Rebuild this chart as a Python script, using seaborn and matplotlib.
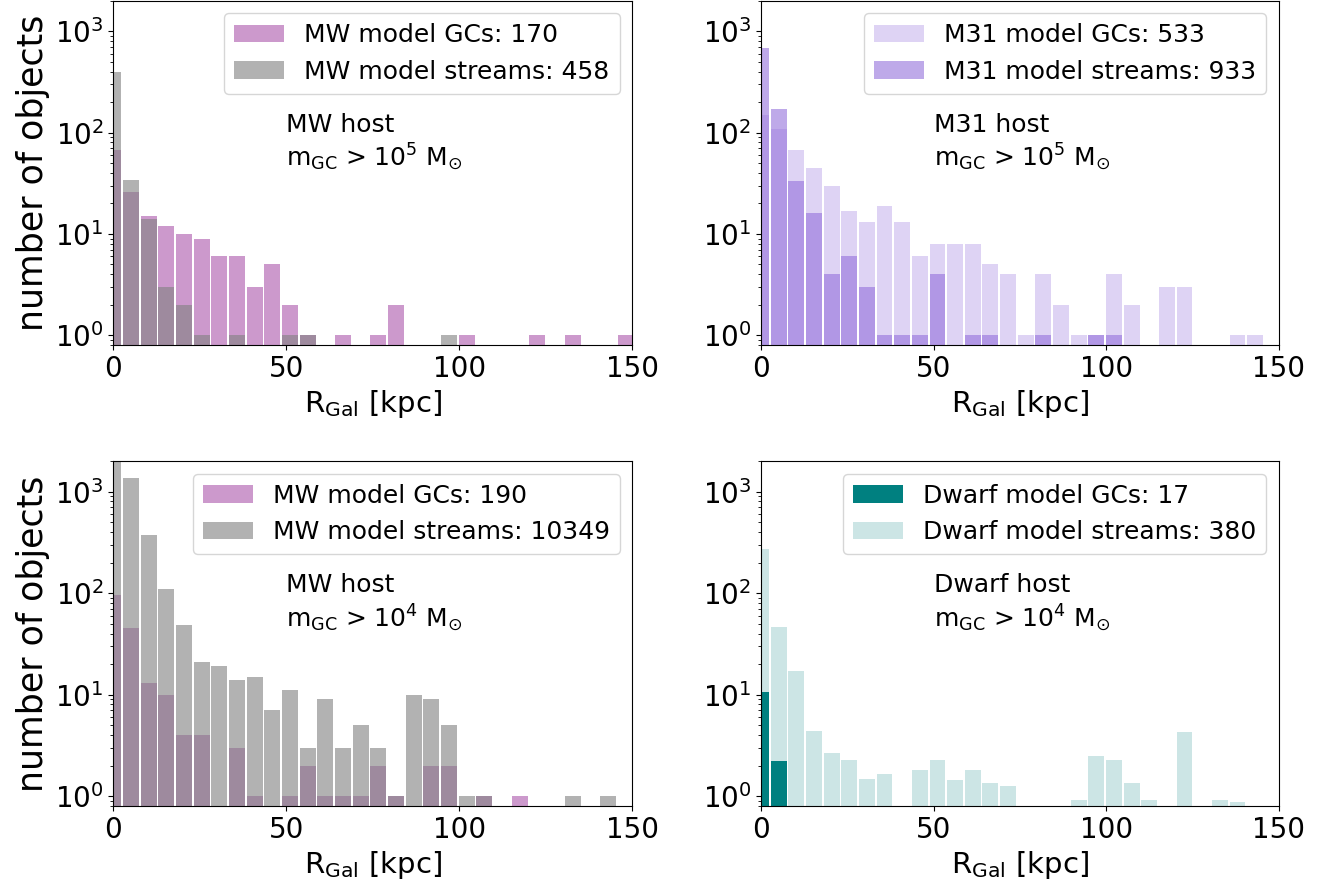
import numpy as np
import pandas as pd
import matplotlib
matplotlib.use("Agg")
import matplotlib.pyplot as plt
import seaborn as sns

# Galactocentric radius bins [kpc]
BIN_WIDTH = 5.11
N_BINS = 30
r_centers = np.arange(N_BINS) * BIN_WIDTH
r_edges = ((np.arange(N_BINS + 1) - 0.5) * BIN_WIDTH).tolist()

# MW host, m_GC > 1e5 Msun
mw5_gcs = [67, 26, 15, 12, 10, 9, 6, 6, 3, 5, 2, 1, 0, 1, 0,
           1, 2, 0, 0, 0, 1, 0, 0, 0, 1, 0, 1, 0, 0, 1]
mw5_streams = [400, 34, 14, 3, 2, 1, 0, 1, 0, 0, 1, 1, 0, 0, 0,
               0, 0, 0, 0, 1, 0, 0, 0, 0, 0, 0, 0, 0, 0, 0]

# M31 host, m_GC > 1e5 Msun
m31_gcs = [148, 108, 67, 45, 30, 17, 13, 19, 13, 6, 8, 8, 8, 5, 4,
           1, 4, 2, 1, 1, 4, 2, 0, 3, 3, 0, 0, 1, 1, 0]
m31_streams = [689, 170, 33, 16, 4, 6, 3, 1, 1, 1, 4, 0, 1, 1, 0,
               0, 1, 0, 0, 1, 1, 0, 0, 0, 0, 0, 0, 0, 0, 0]

# MW host, m_GC > 1e4 Msun
mw4_gcs = [95, 45, 13, 10, 4, 4, 0, 3, 1, 0, 1, 2, 1, 1, 1,
           2, 1, 0, 2, 2, 0, 1, 0, 1, 0, 0, 0, 0, 0, 0]
mw4_streams = [8314, 1363, 375, 110, 48, 21, 19, 14, 15, 7, 11, 3, 9, 3, 5,
               3, 1, 10, 9, 5, 1, 1, 0, 0, 0, 0, 1, 0, 1, 0]

# Dwarf host, m_GC > 1e4 Msun
dw4_gcs = [10.7, 2.24, 0, 0, 0, 0, 0, 0, 0, 0, 0, 0, 0, 0, 0,
           0, 0, 0, 0, 0, 0, 0, 0, 0, 0, 0, 0, 0, 0, 0]
dw4_streams = [273, 46.7, 17.2, 4.43, 2.69, 2.29, 1.46, 1.67, 0, 1.79, 2.29,
               1.43, 1.79, 1.36, 1.27, 0, 0, 0, 0.91, 2.51, 2.29, 1.36, 0.91,
               0, 4.33, 0, 0.91, 0.87, 0, 0]

panels = [
    dict(pos=[0.0851, 0.6124, 0.3894, 0.3866], host="MW host", mexp=5,
         series=[("MW model GCs: 170", mw5_gcs, "purple", 0.4, 1),
                 ("MW model streams: 458", mw5_streams, "gray", 0.6, 2)]),
    dict(pos=[0.5713, 0.6124, 0.3889, 0.3866], host="M31 host", mexp=5,
         series=[("M31 model GCs: 533", m31_gcs, "mediumpurple", 0.3, 1),
                 ("M31 model streams: 933", m31_streams, "mediumpurple", 0.6, 2)]),
    dict(pos=[0.0851, 0.0944, 0.3894, 0.3876], host="MW host", mexp=4,
         series=[("MW model GCs: 190", mw4_gcs, "purple", 0.4, 1),
                 ("MW model streams: 10349", mw4_streams, "gray", 0.6, 2)]),
    dict(pos=[0.5713, 0.0944, 0.3889, 0.3876], host="Dwarf host", mexp=4,
         series=[("Dwarf model GCs: 17", dw4_gcs, "teal", 1.0, 2),
                 ("Dwarf model streams: 380", dw4_streams, "teal", 0.2, 1)]),
]

fig = plt.figure(figsize=(13.32, 8.9), dpi=100)

for i, p in enumerate(panels):
    ax = fig.add_axes(p["pos"])
    ax.set_yscale("log")
    for label, counts, color, alpha, z in sorted(p["series"], key=lambda s: s[4]):
        df = pd.DataFrame({"r": r_centers, "n": counts})
        sns.histplot(data=df, x="r", weights="n", bins=r_edges, shrink=0.9,
                     color=color, alpha=alpha, linewidth=0, label=label,
                     zorder=z, ax=ax)
    ax.set_xlim(0, 150)
    ax.set_ylim(0.8, 2000)
    ax.set_xticks([0, 50, 100, 150])
    ax.tick_params(axis="both", which="major", labelsize=20)
    ax.set_xlabel(r"R$_{\rm Gal}$ [kpc]", fontsize=21)
    if i % 2 == 0:
        ax.set_ylabel("number of objects", fontsize=25)
    else:
        ax.set_ylabel("")

    handles, labels = ax.get_legend_handles_labels()
    order = [s[0] for s in p["series"]]
    hl = dict(zip(labels, handles))
    ax.legend([hl[l] for l in order], order, loc="upper right", fontsize=18)

    ax.text(50, 0.675,
            p["host"] + "\n" + r"m$_{\rm GC}$ > 10$^{%d}$ M$_{\odot}$" % p["mexp"],
            transform=ax.get_xaxis_transform(), va="top", ha="left",
            fontsize=18)

fig.savefig("out.png", dpi=100)
